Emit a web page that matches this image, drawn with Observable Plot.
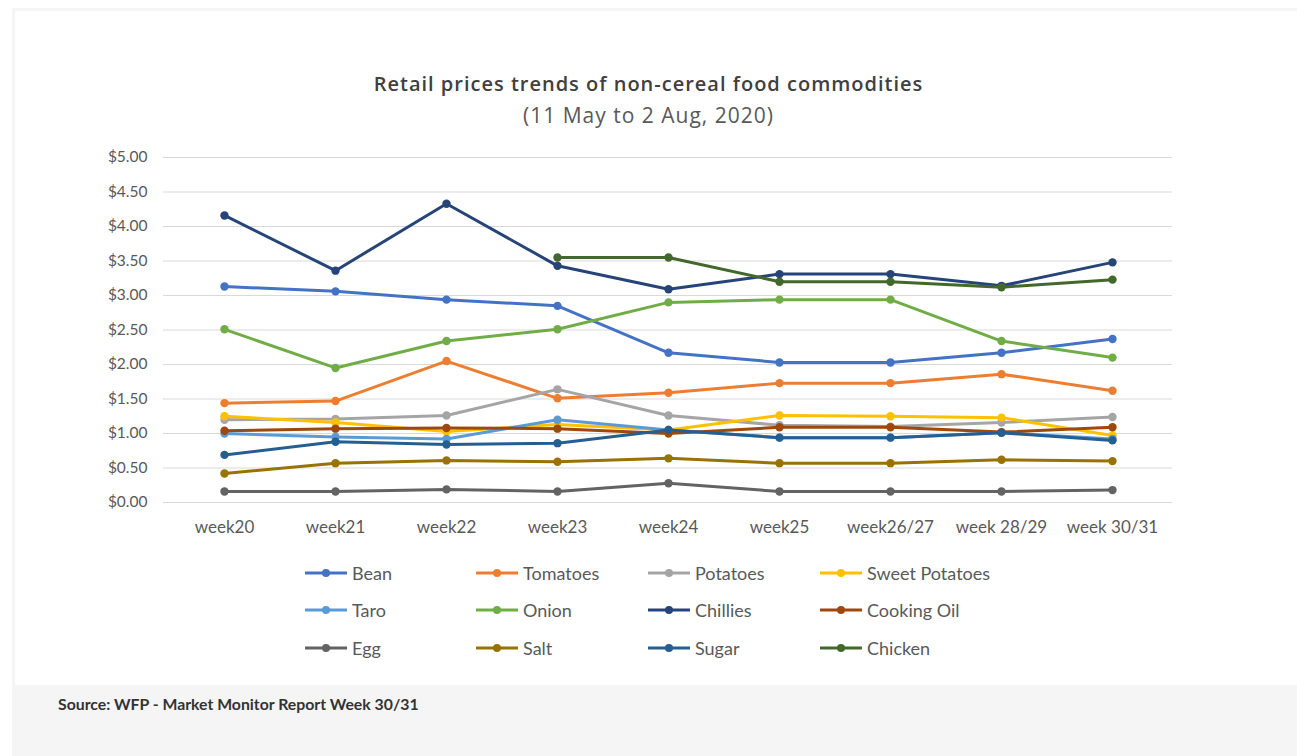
<!DOCTYPE html>
<html>
<head>
<meta charset="utf-8">
<script src="https://cdn.jsdelivr.net/npm/d3@7"></script>
<script src="https://cdn.jsdelivr.net/npm/@observablehq/plot@0.6"></script>
<style>
  html, body { margin: 0; padding: 0; background: #fff; }
  body { width: 1297px; height: 756px; position: relative; overflow: hidden; font-family: Lato, "Open Sans", sans-serif; }
  #frame { position: absolute; left: 12px; top: 8px; right: 0; bottom: 0; background: #f5f5f5; }
  #panel { position: absolute; left: 15px; top: 11px; width: 1282px; height: 674px; background: #fff; }
  #title { position: absolute; left: 0; width: 1297px; top: 70px; text-align: center; font: 600 20px "Open Sans", sans-serif; letter-spacing: 1px; color: #404040; }
  #subtitle { position: absolute; left: 0; width: 1297px; top: 101px; text-align: center; font: 400 21px "Open Sans", sans-serif; letter-spacing: 1px; color: #595959; }
  #chart { position: absolute; left: 0; top: 140px; }
  .leg { position: absolute; display: flex; align-items: center; font: 400 18px Lato, sans-serif; color: #595959; height: 22px; }
  .leg svg { margin-right: 5px; }
  #source { position: absolute; left: 58px; top: 694px; font: 700 15.8px Lato, sans-serif; color: #333; }
</style>
</head>
<body>
<div id="frame"></div>
<div id="panel"></div>
<div id="title">Retail prices trends of non-cereal food commodities</div>
<div id="subtitle">(11 May to 2 Aug, 2020)</div>
<div id="chart"></div>
<div id="legend"></div>
<div id="source">Source: WFP - Market Monitor Report Week 30/31</div>
<script>
// ---- data ----
const weeks = ["week20", "week21", "week22", "week23", "week24", "week25", "week26/27", "week 28/29", "week 30/31"];
const yTicks = [0, 0.5, 1, 1.5, 2, 2.5, 3, 3.5, 4, 4.5, 5];

const bean          = [3.13, 3.06, 2.94, 2.85, 2.17, 2.03, 2.03, 2.17, 2.37];
const tomatoes      = [1.44, 1.47, 2.05, 1.51, 1.59, 1.73, 1.73, 1.86, 1.62];
const potatoes      = [1.20, 1.21, 1.26, 1.64, 1.26, 1.12, 1.10, 1.16, 1.24];
const sweetPotatoes = [1.25, 1.16, 1.03, 1.13, 1.05, 1.26, 1.25, 1.23, 0.97];
const taro          = [1.00, 0.95, 0.92, 1.20, 1.05, 0.94, 0.94, 1.01, 0.92];
const onion         = [2.51, 1.95, 2.34, 2.51, 2.90, 2.94, 2.94, 2.34, 2.10];
const chillies      = [4.16, 3.36, 4.33, 3.43, 3.09, 3.31, 3.31, 3.14, 3.48];
const cookingOil    = [1.04, 1.07, 1.08, 1.07, 1.00, 1.09, 1.09, 1.02, 1.09];
const egg           = [0.16, 0.16, 0.19, 0.16, 0.28, 0.16, 0.16, 0.16, 0.18];
const salt          = [0.42, 0.57, 0.61, 0.59, 0.64, 0.57, 0.57, 0.62, 0.60];
const sugar         = [0.69, 0.88, 0.84, 0.86, 1.05, 0.94, 0.94, 1.01, 0.90];
const chicken       = [null, null, null, 3.55, 3.55, 3.20, 3.20, 3.12, 3.23];

const names  = ["Bean", "Tomatoes", "Potatoes", "Sweet Potatoes", "Taro", "Onion", "Chillies", "Cooking Oil", "Egg", "Salt", "Sugar", "Chicken"];
const colors = ["#4472C4", "#ED7D31", "#A5A5A5", "#FFC000", "#5B9BD5", "#70AD47", "#264478", "#9E480E", "#636363", "#997300", "#255E91", "#43682B"];
const valuesList = [bean, tomatoes, potatoes, sweetPotatoes, taro, onion, chillies, cookingOil, egg, salt, sugar, chicken];

// ---- build ----
const series = names.map((name, k) => ({
  name, color: colors[k],
  rows: valuesList[k].map((v, i) => ({week: weeks[i], price: v})).filter(d => d.price != null)
}));

const marks = [Plot.ruleY(yTicks, {stroke: "#d9d9d9", strokeWidth: 1})];
for (const s of series) {
  marks.push(Plot.line(s.rows, {x: "week", y: "price", stroke: s.color, strokeWidth: 3}));
  marks.push(Plot.dot(s.rows, {x: "week", y: "price", fill: s.color, r: 4.2}));
}
marks.push(Plot.axisY({ticks: yTicks, tickFormat: d => "$" + d.toFixed(2), tickSize: 0, tickPadding: 16, fontSize: 15.5}));
marks.push(Plot.axisX({tickSize: 0, tickPadding: 18, fontSize: 17}));

const chart = Plot.plot({
  width: 1297,
  height: 400,
  marginTop: 17,
  marginBottom: 38,
  marginLeft: 163,
  marginRight: 125,
  style: {fontFamily: "Lato, sans-serif", color: "#595959", background: "transparent", overflow: "visible"},
  x: {type: "point", domain: weeks, padding: 0.545, label: null},
  y: {domain: [0, 5], label: null},
  marks
});
document.getElementById("chart").appendChild(chart);

// ---- legend ----
const legCols = [305, 476, 648, 820];
const legRows = [573, 610, 648];
const legend = document.getElementById("legend");
series.forEach((s, k) => {
  const div = document.createElement("div");
  div.className = "leg";
  div.style.left = legCols[k % 4] + "px";
  div.style.top = (legRows[Math.floor(k / 4)] - 11) + "px";
  div.innerHTML = `<svg width="42" height="12"><line x1="0" y1="6" x2="42" y2="6" stroke="${s.color}" stroke-width="3"/><circle cx="21" cy="6" r="4" fill="${s.color}"/></svg><span>${s.name}</span>`;
  legend.appendChild(div);
});
</script>
</body>
</html>
